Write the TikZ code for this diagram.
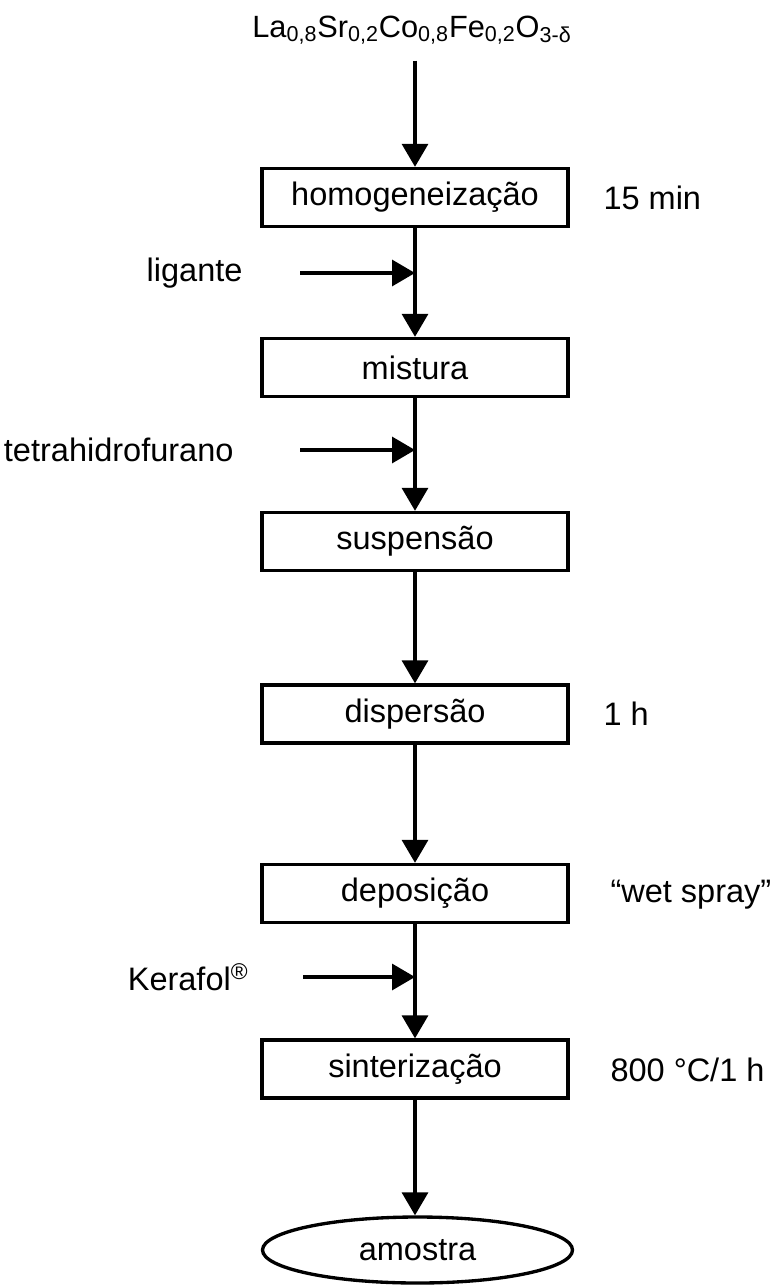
\documentclass[tikz,border=0pt]{standalone}
\usepackage{fontspec}
\setmainfont{Liberation Sans}
\usetikzlibrary{arrows.meta,shapes.geometric}

\tikzset{
    etapa/.style={draw, line width=1.9pt, minimum width=6.12cm, minimum height=1.16cm, inner sep=0pt},
    produto/.style={draw, ellipse, line width=1.9pt, minimum width=6.2cm, minimum height=1.32cm, inner sep=0pt},
}

\begin{document}
\begin{tikzpicture}[>={Triangle[length=0.46cm,width=0.52cm]}, line width=1.9pt, font=\fontsize{18.5}{22}\selectfont]
    \useasboundingbox (0,0) rectangle (15.44,-25.76);

    % 1. Material de partida e etapas
    \node[font=\fontsize{17.5}{21}\selectfont] (po) at (8.24,-0.6) {La\textsubscript{0,8}Sr\textsubscript{0,2}Co\textsubscript{0,8}Fe\textsubscript{0,2}O\textsubscript{3-δ}};
    \node[etapa] (homog) at (8.3,-3.95) {homogeneização};
    \node[etapa] (mist) at (8.3,-7.35) {mistura};
    \node[etapa] (susp) at (8.3,-10.83) {suspensão};
    \node[etapa] (disp) at (8.3,-14.28) {dispersão};
    \node[etapa] (depo) at (8.3,-17.87) {deposição};
    \node[etapa] (sint) at (8.3,-21.38) {sinterização};
    \node[produto] (amos) at (8.35,-25.0) {amostra};

    % 2. Fluxo principal
    \draw[->] ([yshift=-5pt]po.south -| homog.north) -- (homog.north);
    \draw[->] (homog) -- (mist);
    \draw[->] (mist) -- (susp);
    \draw[->] (susp) -- (disp);
    \draw[->] (disp) -- (depo);
    \draw[->] (depo) -- (sint);
    \draw[->] (sint.south) -- (sint.south |- amos.north);

    % 3. Aditivos
    \coordinate (lig) at (6.0,-5.46);
    \coordinate (thf) at (6.0,-9.0);
    \coordinate (ker) at (6.06,-19.54);
    \node[anchor=east] (ligL) at (5.0,-5.46) {ligante};
    \node[anchor=east] (thfL) at (4.82,-9.0) {tetrahidrofurano};
    \node[anchor=east] (kerL) at (5.12,-19.54) {Kerafol\textsuperscript{®}};
    \draw[->] (lig) -- (lig -| homog.south);
    \draw[->] (thf) -- (thf -| mist.south);
    \draw[->] (ker) -- (ker -| depo.south);

    % 4. Condições
    \node[anchor=west] (t1) at (11.92,-3.95) {15 min};
    \node[anchor=west] (t2) at (11.92,-14.28) {1 h};
    \node[anchor=west] (t3) at (12.06,-17.9) {“wet spray”};
    \node[anchor=west] (t4) at (12.06,-21.4) {800 °C/1 h};
\end{tikzpicture}
\end{document}
